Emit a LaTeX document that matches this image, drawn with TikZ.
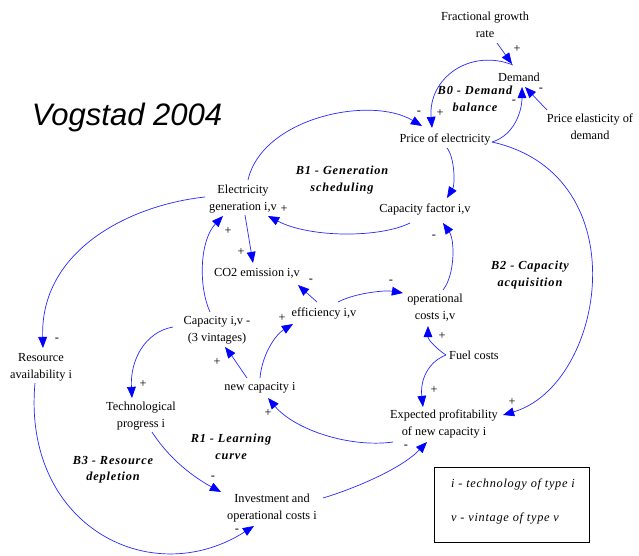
\documentclass[tikz,border=0pt]{standalone}
\usepackage{fontspec}
\setmainfont{Liberation Serif}
\newfontfamily\arialfont{Liberation Sans}
\usetikzlibrary{arrows.meta,calc}
\newcommand\lblfont{\fontsize{10.5}{14.5}\selectfont}
\newcommand\loopfnt{\fontsize{10.5}{14}\selectfont\bfseries\itshape\addfontfeatures{LetterSpace=7}}
\newcommand\legfnt{\fontsize{10.5}{14}\selectfont\itshape\addfontfeatures{LetterSpace=6}}
\tikzset{
  lbl/.style={font=\lblfont, align=center, inner sep=1pt},
  looplbl/.style={font=\loopfnt, align=center, inner sep=1pt},
  sgn/.style={font=\lblfont, inner sep=0pt},
  ln/.style={draw={rgb,255:red,40;green,40;blue,255}, line width=0.6pt,
    -{Triangle[length=9.5pt,width=7.5pt,fill=blue,color=blue]}},
}
\begin{document}
\begin{tikzpicture}[x=0.03cm,y=0.03cm]
\useasboundingbox (0,0) rectangle (639,-556);
% title
\node[font=\arialfont\itshape\fontsize{26.5}{30}\selectfont, inner sep=0pt] (title) at (127,-117) {Vogstad 2004};
% variables
\node[lbl] (fgr)   at (485,-25)  {Fractional growth\\rate};
\node[lbl] (dem)   at (519,-77)  {Demand};
\node[lbl] (ped)   at (590,-127) {Price elasticity of\\demand};
\node[lbl] (price) at (445,-139) {Price of electricity};
\node[lbl] (elec)  at (243,-199) {Electricity\\generation i,v};
\node[lbl] (cf)    at (425,-209) {Capacity factor i,v};
\node[lbl] (co2)   at (257,-273) {CO2 emission i,v};
\node[lbl] (eff)   at (324,-313) {efficiency i,v};
\node[lbl] (opc)   at (435,-308) {operational\\costs i,v};
\node[lbl] (cap)   at (217,-330) {Capacity i,v -\\(3 vintages)};
\node[lbl] (res)   at (41,-367)  {Resource\\availability i};
\node[lbl] (fuel)  at (474,-355) {Fuel costs};
\node[lbl] (newc)  at (260,-388) {new capacity i};
\node[lbl] (tech)  at (141,-416) {Technological\\progress i};
\node[lbl] (exp)   at (444,-424) {Expected profitability\\of new capacity i};
\node[lbl] (inv)   at (272,-508) {Investment and\\operational costs i};
% loop labels
\node[looplbl] (b0) at (475,-99)  {B0 - Demand\\balance};
\node[looplbl] (b1) at (342,-180) {B1 - Generation\\scheduling};
\node[looplbl] (b2) at (530,-275) {B2 - Capacity\\acquisition};
\node[looplbl] (r1) at (231,-447) {R1 - Learning\\curve};
\node[looplbl] (b3) at (113,-470) {B3 - Resource\\depletion};
% legend
\draw[line width=0.6pt] (434,-467) rectangle (589,-542);
\node[font=\legfnt, inner sep=0pt] (leg1) at (513,-484) {i - technology of type i};
\node[font=\legfnt, inner sep=0pt] (leg2) at (505,-518) {v - vintage of type v};
% connectors
\draw[ln] ($(fgr)+(12,-18)$) -- ($(dem)+(-7,13)$);
\draw[ln] ($(ped)+(-43,17)$) -- ($(dem)+(6,-10)$);
\draw[ln] ($(price)+(47,-3)$) .. controls (515,-135) and (522,-110) .. ($(dem)+(3,-10)$);
\draw[ln] ($(dem)+(-6,12)$) .. controls (470,-48) and (428,-78) .. ($(price)+(-13,11)$);
\draw[ln] ($(elec)+(5,19)$) .. controls (262,-118) and (370,-95) .. ($(price)+(-23,13)$);
\draw[ln] ($(price)+(2,-9)$) .. controls (455,-158) and (455,-185) .. ($(cf)+(22,11)$);
\draw[ln] ($(cf)+(-15,-14)$) .. controls (380,-238) and (310,-238) .. ($(elec)+(25,-17)$);
\draw[ln] ($(price)+(47,-3)$) .. controls (640,-175) and (605,-385) .. ($(exp)+(59,9)$);
\draw[ln] ($(elec)+(-38,2)$) .. controls (130,-205) and (40,-250) .. ($(res)+(2,19)$);
\draw[ln] ($(elec)+(2,-16)$) -- ($(co2)+(-4,10)$);
\draw[ln] ($(cap)+(-7,18)$) .. controls (198,-285) and (200,-240) .. ($(elec)+(-20,-17)$);
\draw[ln] ($(cap)+(-44,3)$) .. controls (145,-332) and (130,-360) .. ($(tech)+(-9,18)$);
\draw[ln] ($(newc)+(-13,10)$) .. controls (240,-368) and (232,-356) .. ($(cap)+(8,-17)$);
\draw[ln] ($(newc)+(0,10)$) .. controls (262,-355) and (275,-335) .. ($(eff)+(-31,-11)$);
\draw[ln] ($(eff)+(-7,11)$) -- ($(co2)+(41,-12)$);
\draw[ln] ($(eff)+(14,11)$) .. controls (355,-293) and (385,-290) .. ($(opc)+(-32,15)$);
\draw[ln] ($(opc)+(8,18)$) .. controls (455,-275) and (455,-240) .. ($(cf)+(18,-14)$);
\draw[ln] ($(fuel)+(-28,0)$) .. controls (438,-350) and (428,-340) .. ($(opc)+(-7,-18)$);
\draw[ln] ($(fuel)+(-28,0)$) .. controls (428,-362) and (420,-380) .. ($(exp)+(-21,17)$);
\draw[ln] ($(exp)+(-51,-18)$) .. controls (350,-448) and (295,-430) .. ($(newc)+(8,-10)$);
\draw[ln] ($(tech)+(11,-16)$) .. controls (170,-460) and (195,-478) .. ($(inv)+(-51,16)$);
\draw[ln] ($(inv)+(51,10)$) .. controls (350,-490) and (400,-470) .. ($(exp)+(-17,-18)$);
\draw[ln] ($(res)+(-6,-16)$) .. controls (22,-525) and (150,-592) .. ($(inv)+(-18,-18)$);
% polarity signs
\node[sgn] (s1)  at (517,-49)  {+};
\node[sgn] (s2)  at (541,-90)  {-};
\node[sgn] (s3)  at (514,-102) {-};
\node[sgn] (s4)  at (440,-113) {+};
\node[sgn] (s5)  at (419,-113) {-};
\node[sgn] (s6)  at (284,-209) {+};
\node[sgn] (s7)  at (512,-402) {+};
\node[sgn] (s8)  at (57,-340)  {-};
\node[sgn] (s9)  at (241,-252) {+};
\node[sgn] (s10) at (228,-231) {+};
\node[sgn] (s11) at (143,-384) {+};
\node[sgn] (s12) at (217,-362) {+};
\node[sgn] (s13) at (282,-318) {+};
\node[sgn] (s14) at (311,-281) {-};
\node[sgn] (s15) at (391,-282) {-};
\node[sgn] (s16) at (434,-237) {-};
\node[sgn] (s17) at (442,-336) {+};
\node[sgn] (s18) at (434,-390) {+};
\node[sgn] (s19) at (268,-413) {+};
\node[sgn] (s20) at (213,-478) {-};
\node[sgn] (s21) at (406,-447) {-};
\node[sgn] (s22) at (237,-531) {-};
\end{tikzpicture}
\end{document}
